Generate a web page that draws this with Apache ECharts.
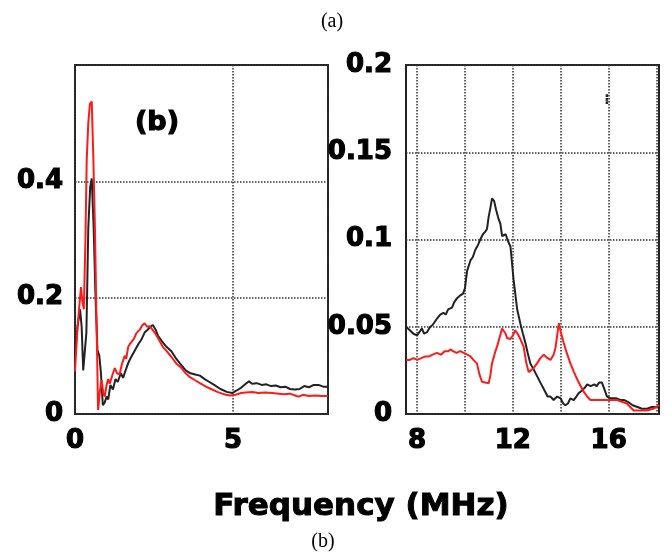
<!DOCTYPE html>
<html>
<head>
<meta charset="utf-8">
<script src="https://cdn.jsdelivr.net/npm/echarts@6/dist/echarts.min.js"></script>
<style>
  html, body { margin: 0; padding: 0; background: #fff; }
  #chart { width: 671px; height: 554px; }
</style>
</head>
<body>
<div id="chart"></div>
<script>
// Spectra: low-frequency band (0-8 MHz) on the left, 7.5-18 MHz band on the right.
// Each point is [frequency in MHz, amplitude].
const leftBlack = [
  [0,0.10],[0.08,0.15],[0.16,0.18],[0.21,0.15],[0.26,0.075],[0.31,0.078],[0.36,0.14],[0.42,0.32],
  [0.48,0.39],[0.53,0.405],[0.59,0.32],[0.65,0.20],[0.71,0.11],[0.77,0.10],[0.82,0.07],[0.88,0.015],
  [0.94,0.02],[1.0,0.03],[1.05,0.025],[1.12,0.05],[1.2,0.042],[1.28,0.06],[1.35,0.055],[1.45,0.07],
  [1.52,0.062],[1.6,0.075],[1.7,0.09],[1.8,0.10],[1.9,0.11],[2.0,0.12],[2.1,0.128],[2.2,0.14],
  [2.3,0.145],[2.38,0.15],[2.46,0.153],[2.55,0.145],[2.62,0.135],[2.75,0.125],[2.9,0.115],[3.05,0.108],
  [3.2,0.095],[3.35,0.085],[3.5,0.075],[3.65,0.07],[3.8,0.068],[3.95,0.066],[4.1,0.06],[4.25,0.055],
  [4.4,0.05],[4.6,0.043],[4.8,0.038],[4.97,0.036],[5.1,0.04],[5.25,0.045],[5.4,0.052],[5.5,0.056],
  [5.6,0.052],[5.75,0.053],[5.9,0.05],[6.05,0.051],[6.2,0.048],[6.35,0.049],[6.5,0.046],[6.65,0.047],
  [6.8,0.043],[6.95,0.042],[7.1,0.043],[7.25,0.048],[7.4,0.046],[7.55,0.05],[7.7,0.05],[7.85,0.047],[8,0.047]
];
const leftRed = [
  [0,0.073],[0.08,0.15],[0.19,0.218],[0.23,0.195],[0.28,0.18],[0.33,0.30],[0.37,0.436],[0.42,0.50],
  [0.47,0.533],[0.53,0.537],[0.58,0.44],[0.63,0.32],[0.68,0.16],[0.73,0.007],[0.79,0.04],[0.84,0.058],
  [0.9,0.035],[0.94,0.03],[1.0,0.05],[1.05,0.06],[1.1,0.052],[1.15,0.05],[1.2,0.07],[1.26,0.079],
  [1.33,0.07],[1.41,0.068],[1.48,0.085],[1.57,0.10],[1.62,0.095],[1.68,0.115],[1.73,0.12],[1.8,0.125],
  [1.87,0.13],[1.94,0.139],[2.05,0.145],[2.12,0.152],[2.2,0.156],[2.28,0.15],[2.36,0.151],[2.45,0.145],
  [2.52,0.14],[2.65,0.128],[2.78,0.115],[2.9,0.108],[3.05,0.098],[3.2,0.087],[3.35,0.08],[3.5,0.07],
  [3.62,0.064],[3.8,0.058],[3.95,0.053],[4.14,0.047],[4.3,0.043],[4.5,0.038],[4.65,0.035],[4.77,0.033],
  [4.9,0.032],[5.08,0.033],[5.25,0.036],[5.4,0.037],[5.61,0.038],[5.8,0.036],[6.0,0.037],[6.24,0.036],
  [6.45,0.035],[6.6,0.034],[6.8,0.035],[7.0,0.031],[7.08,0.03],[7.2,0.033],[7.4,0.031],[7.6,0.032],
  [7.8,0.031],[8,0.031]
];
const rightBlack = [
  [7.54,0.050],[7.7,0.048],[7.85,0.046],[8.0,0.045],[8.1,0.047],[8.2,0.049],[8.3,0.046],[8.42,0.047],
  [8.55,0.05],[8.65,0.051],[8.75,0.053],[8.85,0.055],[8.97,0.057],[9.1,0.058],[9.2,0.057],[9.3,0.06],
  [9.46,0.061],[9.55,0.064],[9.65,0.066],[9.81,0.068],[9.92,0.069],[10.0,0.072],[10.09,0.082],
  [10.23,0.088],[10.33,0.09],[10.43,0.094],[10.55,0.097],[10.64,0.10],[10.75,0.103],[10.85,0.1045],
  [10.92,0.106],[10.99,0.113],[11.06,0.118],[11.13,0.1236],[11.22,0.122],[11.3,0.117],[11.4,0.112],
  [11.48,0.109],[11.55,0.102],[11.62,0.1016],[11.7,0.103],[11.8,0.099],[11.9,0.096],[12.03,0.077],
  [12.18,0.06],[12.31,0.052],[12.42,0.046],[12.52,0.041],[12.62,0.035],[12.73,0.029],[12.85,0.026],
  [13.0,0.022],[13.15,0.018],[13.3,0.014],[13.45,0.01],[13.57,0.01],[13.7,0.008],[13.85,0.01],
  [13.99,0.009],[14.1,0.006],[14.19,0.005],[14.3,0.006],[14.4,0.009],[14.54,0.008],[14.65,0.01],
  [14.75,0.012],[14.85,0.013],[15.0,0.015],[15.1,0.017],[15.25,0.016],[15.4,0.017],[15.5,0.016],
  [15.6,0.018],[15.72,0.018],[15.8,0.015],[15.93,0.010],[16.1,0.009],[16.3,0.009],[16.49,0.008],
  [16.65,0.008],[16.8,0.007],[17.0,0.005],[17.2,0.004],[17.39,0.003],[17.6,0.003],[17.8,0.004],[18.1,0.004]
];
const rightRed = [
  [7.54,0.031],[7.7,0.031],[7.85,0.032],[8.0,0.031],[8.18,0.032],[8.35,0.033],[8.5,0.033],[8.65,0.034],
  [8.83,0.035],[9.0,0.034],[9.15,0.036],[9.3,0.036],[9.39,0.037],[9.5,0.036],[9.65,0.035],[9.8,0.036],
  [9.95,0.035],[10.1,0.034],[10.23,0.033],[10.35,0.031],[10.5,0.029],[10.6,0.023],[10.71,0.0185],
  [10.85,0.018],[10.99,0.0176],[11.06,0.022],[11.13,0.029],[11.25,0.035],[11.34,0.0386],[11.45,0.044],
  [11.55,0.049],[11.62,0.050],[11.7,0.046],[11.76,0.0435],[11.9,0.043],[12.0,0.045],[12.1,0.048],
  [12.2,0.046],[12.31,0.043],[12.45,0.0386],[12.55,0.03],[12.66,0.024],[12.75,0.025],[12.85,0.026],
  [13.01,0.029],[13.15,0.032],[13.29,0.034],[13.45,0.032],[13.57,0.031],[13.7,0.034],[13.78,0.038],
  [13.85,0.045],[13.92,0.052],[14.0,0.047],[14.12,0.041],[14.25,0.035],[14.4,0.029],[14.55,0.024],
  [14.75,0.018],[14.95,0.013],[15.1,0.01],[15.24,0.008],[15.5,0.008],[15.8,0.008],[16.1,0.008],
  [16.35,0.008],[16.55,0.007],[16.76,0.006],[16.9,0.004],[17.04,0.002],[17.3,0.002],[17.6,0.002],
  [17.85,0.003],[18.0,0.004],[18.1,0.005]
];
const rightGridTicks = [8, 10, 12, 14, 16, 18];
const rightLabelTicks = [8, 12, 16];

// heavy tick labels: bold face thickened with a thin outline of the same colour
const labelFont = {
  fontFamily: 'DejaVu Sans', fontWeight: 'bold', fontSize: 26, color: '#000',
  textBorderColor: '#000', textBorderWidth: 1.2
};
const gridLine = { show: true, lineStyle: { color: '#333', type: 'dotted', width: 1.5 } };

const chart = echarts.init(document.getElementById('chart'), null, { renderer: 'canvas' });
chart.setOption({
  backgroundColor: '#fff',
  animation: false,
  grid: [
    { left: 75, right: 343, top: 65, bottom: 140, show: true, borderColor: '#222', borderWidth: 2, backgroundColor: 'transparent' },
    { left: 406, right: 12, top: 65, bottom: 140, show: true, borderColor: '#222', borderWidth: 2, backgroundColor: 'transparent' }
  ],
  xAxis: [
    {
      gridIndex: 0, type: 'value', min: 0, max: 8, interval: 5,
      axisLine: { show: false }, axisTick: { show: false },
      axisLabel: Object.assign({ margin: 14, showMaxLabel: false }, labelFont),
      splitLine: gridLine
    },
    {
      gridIndex: 1, type: 'value', min: 7.54, max: 18.1,
      axisLine: { show: false },
      axisTick: { show: false, customValues: rightGridTicks },
      axisLabel: Object.assign({ margin: 14, customValues: rightLabelTicks }, labelFont),
      splitLine: gridLine
    }
  ],
  yAxis: [
    {
      gridIndex: 0, type: 'value', min: 0, max: 0.6, interval: 0.2,
      axisLine: { show: false }, axisTick: { show: false },
      axisLabel: Object.assign({ margin: 12, showMaxLabel: false }, labelFont),
      splitLine: gridLine
    },
    {
      gridIndex: 1, type: 'value', min: 0, max: 0.2, interval: 0.05,
      axisLine: { show: false }, axisTick: { show: false },
      axisLabel: Object.assign({ margin: 14 }, labelFont),
      splitLine: gridLine
    }
  ],
  series: [
    { type: 'line', xAxisIndex: 0, yAxisIndex: 0, data: leftBlack, showSymbol: false, lineStyle: { color: '#222', width: 2 }, z: 3 },
    { type: 'line', xAxisIndex: 0, yAxisIndex: 0, data: leftRed, showSymbol: false, lineStyle: { color: '#ff1a1a', width: 2 }, z: 4 },
    { type: 'line', xAxisIndex: 1, yAxisIndex: 1, data: rightBlack, showSymbol: false, lineStyle: { color: '#222', width: 2 }, z: 3 },
    { type: 'line', xAxisIndex: 1, yAxisIndex: 1, data: rightRed, showSymbol: false, lineStyle: { color: '#ff1a1a', width: 2 }, z: 4 }
  ],
  graphic: [
    { type: 'text', x: 332, y: 22, style: { text: '(a)', font: '20px "Liberation Serif"', fill: '#000', textAlign: 'center', textVerticalAlign: 'middle' } },
    { type: 'text', x: 157, y: 123, style: { text: '(b)', font: 'bold 27px "DejaVu Sans"', fill: '#000', stroke: '#000', lineWidth: 1.2, textAlign: 'center', textVerticalAlign: 'middle' } },
    { type: 'text', x: 361, y: 507, style: { text: 'Frequency (MHz)', font: 'bold 31px "DejaVu Sans"', fill: '#000', stroke: '#000', lineWidth: 1, textAlign: 'center', textVerticalAlign: 'middle' } },
    { type: 'text', x: 323, y: 542, style: { text: '(b)', font: '20px "Liberation Serif"', fill: '#000', textAlign: 'center', textVerticalAlign: 'middle' } },
    { type: 'text', x: 607, y: 100, style: { text: '⁝', font: 'bold 14px "DejaVu Sans"', fill: '#222', textAlign: 'center', textVerticalAlign: 'middle' } }
  ]
});
</script>
</body>
</html>
